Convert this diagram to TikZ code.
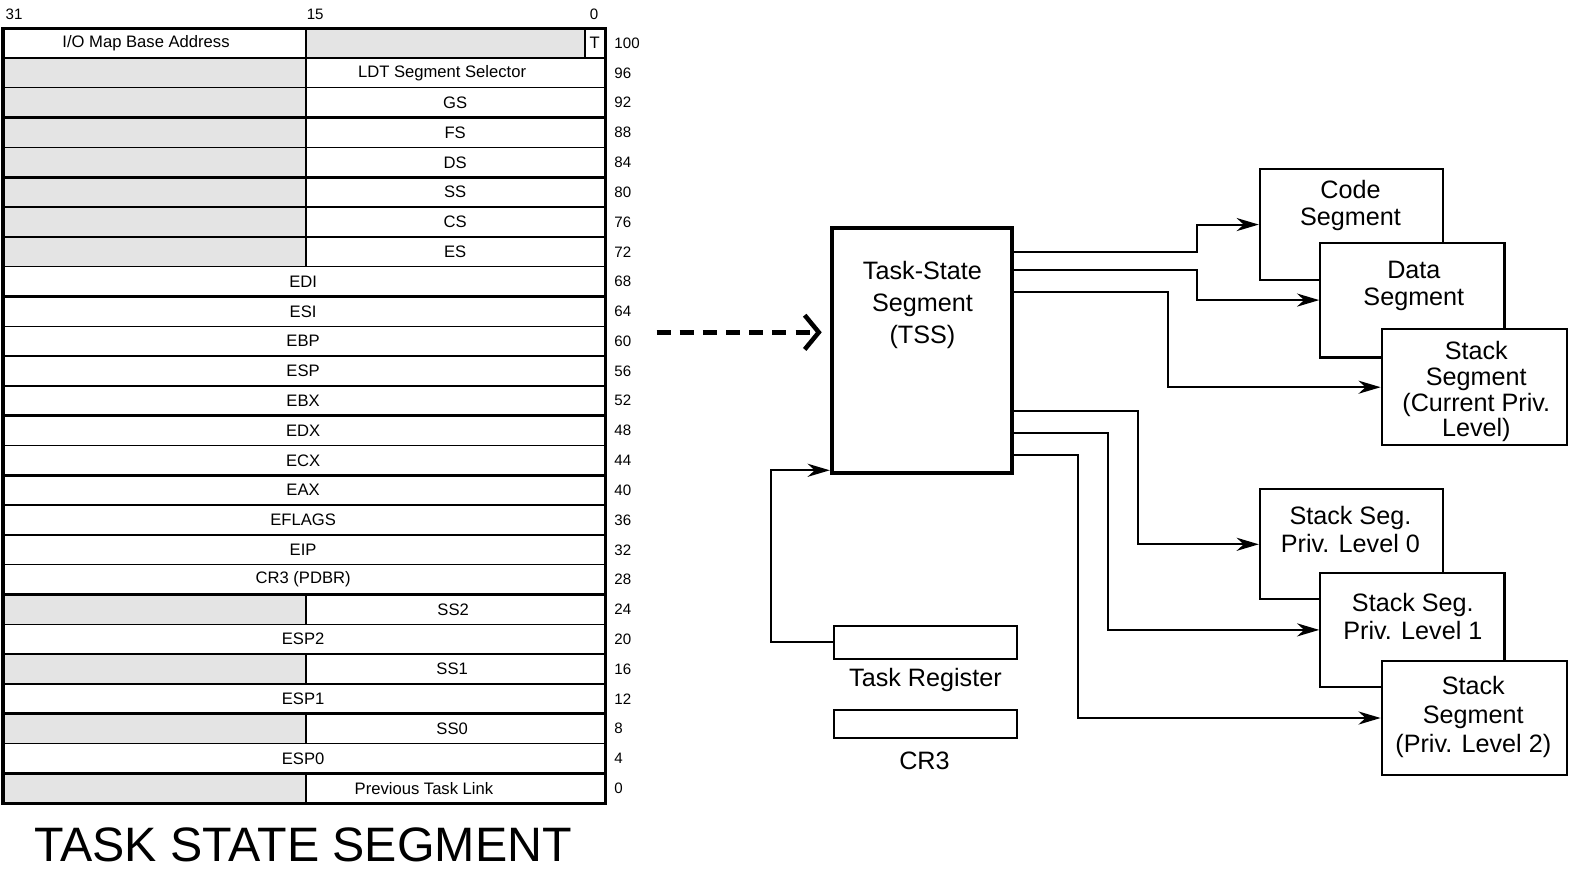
\documentclass[tikz,border=0pt]{standalone}
\usepackage{fontspec}
\setmainfont{Liberation Sans}
\usetikzlibrary{arrows.meta}
\definecolor{cellgray}{HTML}{E4E4E4}
\begin{document}
\begin{tikzpicture}[x=1pt,y=-1pt,
  tfont/.style={font=\fontsize{16.5}{19}\selectfont},
  small/.style={font=\fontsize{15}{17}\selectfont},
  big/.style={font=\fontsize{25}{27.5}\selectfont},
  lbl/.style={inner sep=0pt},
  segbox/.style={draw, line width=2pt, fill=white, inner sep=0pt},
  regbox/.style={draw, line width=2pt, fill=white, inner sep=0pt, minimum width=182pt},
  conn/.style={line width=2pt, -{Stealth[length=22pt,width=13pt,inset=7pt]}},
  dasharrow/.style={line width=4.5pt, dash pattern=on 14pt off 9pt, -{Straight Barb[length=14pt,width=34pt]}},
]
\useasboundingbox (0,0) rectangle (1568,862);
\def\RH{29.6}
% ---------- Table ----------
\fill[cellgray] (304,28) rectangle (581,57.6);
\foreach \i in {1,...,7,19,21,23,25}{
  \fill[cellgray] (3,{28+\i*\RH}) rectangle (304,{28+(\i+1)*\RH});
}
\foreach \k in {1,3,...,25}{
  \draw[line width=2.6pt] (3,{28+\k*\RH}) -- (601,{28+\k*\RH});
}
\foreach \k in {2,4,...,24}{
  \draw[line width=1.3pt] (3,{28+\k*\RH}) -- (601,{28+\k*\RH});
}
\foreach \i in {0,...,7,19,21,23,25}{
  \draw[line width=1.3pt] (304,{28+\i*\RH}) -- (304,{28+(\i+1)*\RH});
}
\draw[line width=1.3pt] (581,28) -- (581,57.6);
\draw[line width=3.2pt] (3,28) rectangle (601,798);
% header
\node[lbl,small] (h31) at (14,14) {31};
\node[lbl,small] (h15) at (313,14) {15};
\node[lbl,small] (h0) at (590,14) {0};
% labels
\node[lbl,tfont] (c0) at (145,{28+0.5*\RH}) {I/O Map Base Address};
\node[lbl,tfont] (ct) at (590.5,{28+0.5*\RH}) {T};
\foreach \i/\txt/\xx in {1/LDT Segment Selector/439, 2/GS/452, 3/FS/452, 4/DS/452, 5/SS/452, 6/CS/452, 7/ES/452,
  19/SS2/450, 21/SS1/449, 23/SS0/449, 25/Previous Task Link/421}{
  \node[lbl,tfont] (c\i) at (\xx,{28+(\i+0.5)*\RH}) {\txt};
}
\foreach \i/\txt in {8/EDI, 9/ESI, 10/EBP, 11/ESP, 12/EBX, 13/EDX, 14/ECX, 15/EAX, 16/EFLAGS, 17/EIP, 18/CR3 (PDBR), 20/ESP2, 22/ESP1, 24/ESP0}{
  \node[lbl,tfont] (c\i) at (301,{28+(\i+0.5)*\RH}) {\txt};
}
% offsets
\foreach \i in {0,...,25}{
  \pgfmathtruncatemacro\off{100-4*\i}
  \node[lbl,small,anchor=west] (o\i) at (610,{28+(\i+0.5)*\RH}) {\off};
}
\node[lbl,font=\fontsize{48}{52}\selectfont,anchor=base,text depth=0pt] (title) at (301,855) {TASK STATE SEGMENT};
% ---------- Right diagram ----------
\node[draw, line width=4pt, minimum width=179pt, minimum height=244pt, inner sep=0pt] (tss) at (915.5,348) {};
\node[lbl,font=\fontsize{25}{31.5}\selectfont,align=center] (tsst) at (916,303) {Task-State\\Segment\\(TSS)};

\node[segbox, minimum width=182pt, minimum height=110pt] (code) at (1342,223) {};
\node[lbl,big,align=center] (codet) at (1341,204) {Code\\Segment};
\node[segbox, minimum width=183pt, minimum height=114pt] (data) at (1402.5,298) {};
\node[lbl,big,align=center] (datat) at (1404,284) {Data\\Segment};
\node[segbox, minimum width=184pt, minimum height=115pt] (stk) at (1464,384.5) {};
\node[lbl,font=\fontsize{25}{25.5}\selectfont,align=center] (stkt) at (1466,389) {Stack\\Segment\\(Current Priv.\\Level)};

\node[segbox, minimum width=182pt, minimum height=109pt] (s0) at (1342,540.5) {};
\node[lbl,big,align=center] (s0t) at (1341,526) {Stack Seg.\\Priv. Level 0};
\node[segbox, minimum width=183pt, minimum height=113pt] (s1) at (1402.5,625.5) {};
\node[lbl,big,align=center] (s1t) at (1403,612) {Stack Seg.\\Priv. Level 1};
\node[segbox, minimum width=184pt, minimum height=114pt] (s2) at (1464,713) {};
\node[lbl,font=\fontsize{25}{29}\selectfont,align=center] (s2t) at (1463,712) {Stack\\Segment\\(Priv. Level 2)};

\draw[conn] (tss.east |- 0,250) -- (1189,250) |- (code.west);
\draw[conn] (tss.east |- 0,268) -- (1189,268) |- (data.west);
\draw[conn] (tss.east |- 0,290) -- (1160,290) |- (stk.west);
\draw[conn] (tss.east |- 0,408) -- (1130,408) |- (s0.west);
\draw[conn] (tss.east |- 0,430) -- (1100,430) |- (s1.west);
\draw[conn] (tss.east |- 0,452) -- (1070,452) |- (s2.west);

\node[regbox, minimum height=32pt] (tr) at (919,638) {};
\node[lbl,big] (trl) at (919,675) {Task Register};
\node[regbox, minimum height=28pt] (cr3) at (919,719) {};
\node[lbl,big] (cr3l) at (918,756) {CR3};
\draw[conn] (tr.west) -- (766,638) |- (tss.west |- 0,467);

\coordinate (dstart) at (652,330);
\draw[dasharrow, shorten >=8pt] (dstart) -- (tss.west |- 0,330);
\end{tikzpicture}
\end{document}
